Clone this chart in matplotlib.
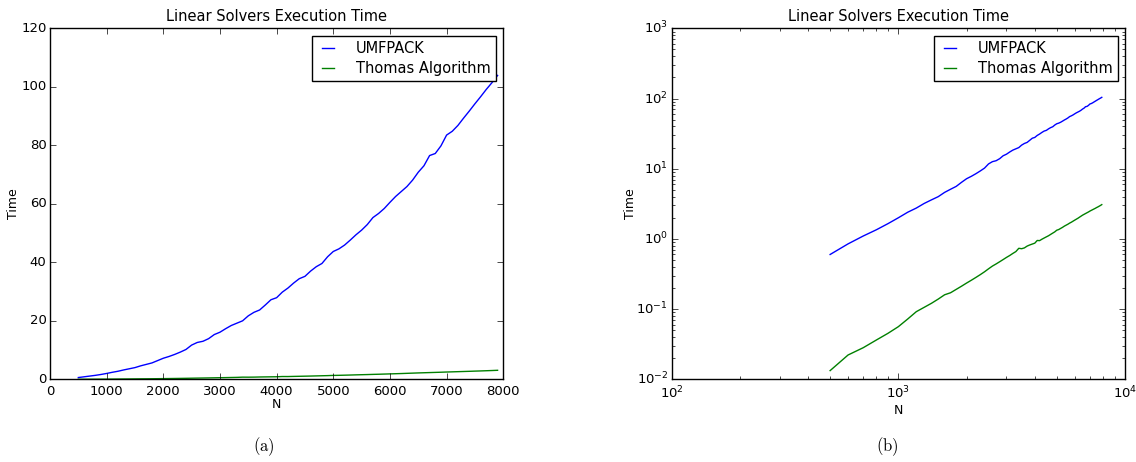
import numpy as np
import matplotlib
matplotlib.use("Agg")
import matplotlib.pyplot as plt

plt.style.use("classic")
plt.rcParams["figure.facecolor"] = "white"
plt.rcParams["savefig.facecolor"] = "white"
plt.rcParams["mathtext.fontset"] = "dejavusans"
plt.rcParams["font.family"] = "DejaVu Sans"

# problem sizes
n = np.arange(500, 8000, 100)

# execution time of the sparse direct solver
umfpack = [0.6, 0.85, 1.1, 1.35, 1.65, 2.0, 2.4, 2.75, 3.2, 3.6,
           4.0, 4.6, 5.1, 5.6, 6.4, 7.2, 7.8, 8.5, 9.3, 10.2,
           11.7, 12.6, 13.0, 13.9, 15.3, 16.1, 17.3, 18.4, 19.2, 20.0,
           21.7, 22.9, 23.7, 25.4, 27.2, 27.9, 29.8, 31.2, 32.9, 34.4,
           35.2, 37.0, 38.5, 39.6, 41.9, 43.7, 44.6, 45.9, 47.6, 49.4,
           51.0, 52.9, 55.3, 56.7, 58.4, 60.5, 62.5, 64.2, 65.9, 68.1,
           70.8, 73.0, 76.5, 77.2, 79.8, 83.5, 84.8, 86.8, 89.3, 91.7,
           94.2, 96.6, 99.1, 101.4, 103.9]

# execution time of the tridiagonal solver
thomas = [0.0133, 0.0222, 0.0282, 0.0363, 0.0452, 0.0562, 0.0723, 0.0919, 0.106, 0.121,
          0.139, 0.160, 0.171, 0.191, 0.212, 0.235, 0.258, 0.283, 0.310, 0.340,
          0.375, 0.410, 0.440, 0.473, 0.508, 0.545, 0.580, 0.621, 0.660, 0.735,
          0.725, 0.745, 0.790, 0.820, 0.845, 0.870, 0.950, 0.945, 0.990, 1.03,
          1.07, 1.11, 1.16, 1.21, 1.26, 1.33, 1.36, 1.41, 1.46, 1.52,
          1.57, 1.62, 1.68, 1.73, 1.79, 1.85, 1.91, 1.97, 2.04, 2.11,
          2.18, 2.24, 2.30, 2.36, 2.42, 2.49, 2.55, 2.61, 2.67, 2.73,
          2.80, 2.86, 2.93, 3.00, 3.08]

labels = ["UMFPACK", "Thomas Algorithm"]
captions = ["(a)", "(b)"]

fig = plt.figure(figsize=(11.36, 4.62), dpi=100)
ax1 = fig.add_axes([0.0440, 0.1790, 0.3990, 0.7597])
ax2 = fig.add_axes([0.5913, 0.1790, 0.3990, 0.7597])

for ax in (ax1, ax2):
    ax.plot(n, umfpack, color="b", lw=1.0, label=labels[0])
    ax.plot(n, thomas, color="g", lw=1.0, label=labels[1])
    ax.set_title("Linear Solvers Execution Time", fontsize=10.5)
    ax.set_xlabel("N", fontsize=9)
    ax.set_ylabel("Time", fontsize=9)
    ax.tick_params(labelsize=9.5)
    ax.tick_params(axis="y", which="both", pad=2.5)
    leg = ax.legend(loc="upper right", fontsize=10.5, handlelength=1.45,
                    handletextpad=1.2, borderaxespad=0.5, fancybox=False,
                    shadow=False, borderpad=0.35, labelspacing=0.35)
    leg.get_frame().set_edgecolor("black")

ax1.set_xlim(0, 8000)
ax1.set_ylim(0, 120)
ax1.yaxis.set_label_coords(-0.066, 0.5)
ax1.xaxis.set_label_coords(0.5, -0.053)

ax2.set_xscale("log")
ax2.set_yscale("log")
ax2.set_xlim(1e2, 1e4)
ax2.set_ylim(1e-2, 1e3)
ax2.yaxis.set_label_coords(-0.0765, 0.5)
ax2.xaxis.set_label_coords(0.5, -0.07)

fig.text(0.2324, 0.024, r"$\mathrm{" + captions[0] + "}$", ha="center",
         fontsize=12, math_fontfamily="cm")
fig.text(0.7808, 0.024, r"$\mathrm{" + captions[1] + "}$", ha="center",
         fontsize=12, math_fontfamily="cm")

fig.savefig("out.png", dpi=100)
